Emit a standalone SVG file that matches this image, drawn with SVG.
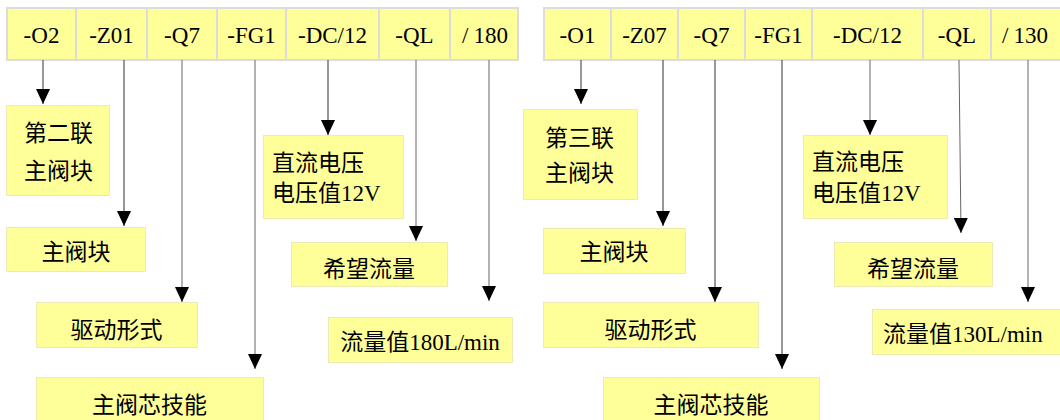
<svg xmlns="http://www.w3.org/2000/svg" width="1060" height="420" viewBox="0 0 1060 420">
<style>
.bar{fill:#dcdcdc}
.cell{fill:#ffff99}
.box{fill:#ffff99;stroke:#ecebb4;stroke-width:1}
text{font-family:"Liberation Serif","Noto Sans CJK SC",serif;fill:#000}
.t{font-size:23px;text-anchor:middle}
.b{font-size:23px}
.c{text-anchor:middle}
.dk{stroke:#333;stroke-width:1;fill:none}
.gy{stroke:#666;stroke-width:1;fill:none}
</style>
<defs>
<marker id="ah" viewBox="0 0 15 14" refX="15" refY="7" markerWidth="15" markerHeight="14" markerUnits="userSpaceOnUse" orient="auto">
<path d="M0,0 L15,7 L0,14 z" fill="#000"/>
</marker>
</defs>
<rect width="1060" height="420" fill="#fff"/>
<g id="bar-left">
<rect class="bar" x="6" y="7" width="513" height="54"/>
<rect class="cell" x="8" y="9" width="67" height="50"/><text class="t" x="41.5" y="43">-O2</text>
<rect class="cell" x="77" y="9" width="69" height="50"/><text class="t" x="111.5" y="43">-Z01</text>
<rect class="cell" x="148" y="9" width="68" height="50"/><text class="t" x="182" y="43">-Q7</text>
<rect class="cell" x="218" y="9" width="67" height="50"/><text class="t" x="251.5" y="43">-FG1</text>
<rect class="cell" x="287" y="9" width="91" height="50"/><text class="t" x="332.5" y="43">-DC/12</text>
<rect class="cell" x="380" y="9" width="69" height="50"/><text class="t" x="414.5" y="43">-QL</text>
<rect class="cell" x="451" y="9" width="66" height="50"/><text class="t" x="485" y="43">/<tspan dx="5">180</tspan></text>
</g>
<g id="bar-right">
<rect class="bar" x="543" y="7" width="520" height="54"/>
<rect class="cell" x="545" y="9" width="65" height="50"/><text class="t" x="577.5" y="43">-O1</text>
<rect class="cell" x="612" y="9" width="65" height="50"/><text class="t" x="644.5" y="43">-Z07</text>
<rect class="cell" x="679" y="9" width="65" height="50"/><text class="t" x="711.5" y="43">-Q7</text>
<rect class="cell" x="746" y="9" width="65" height="50"/><text class="t" x="778.5" y="43">-FG1</text>
<rect class="cell" x="813" y="9" width="109" height="50"/><text class="t" x="867.5" y="43">-DC/12</text>
<rect class="cell" x="924" y="9" width="66" height="50"/><text class="t" x="957" y="43">-QL</text>
<rect class="cell" x="992" y="9" width="70" height="50"/><text class="t" x="1025" y="43">/<tspan dx="5">130</tspan></text>
</g>
<g id="connectors">
<line class="dk" x1="43" y1="60" x2="43" y2="104" marker-end="url(#ah)"/>
<line class="dk" x1="124" y1="60" x2="124" y2="226" marker-end="url(#ah)"/>
<line class="gy" x1="182" y1="60" x2="182" y2="302" marker-end="url(#ah)"/>
<line class="gy" x1="255" y1="60" x2="255" y2="369" marker-end="url(#ah)"/>
<line class="dk" x1="328" y1="60" x2="328" y2="135" marker-end="url(#ah)"/>
<line class="gy" x1="416" y1="60" x2="416" y2="241" marker-end="url(#ah)"/>
<line class="gy" x1="489" y1="60" x2="489" y2="301" marker-end="url(#ah)"/>
<line class="dk" x1="581" y1="60" x2="581" y2="104" marker-end="url(#ah)"/>
<line class="dk" x1="663" y1="60" x2="663" y2="226" marker-end="url(#ah)"/>
<line class="dk" x1="715" y1="60" x2="715" y2="302" marker-end="url(#ah)"/>
<line class="dk" x1="782" y1="60" x2="782" y2="369" marker-end="url(#ah)"/>
<line class="gy" x1="870" y1="60" x2="870" y2="135" marker-end="url(#ah)"/>
<line class="gy" x1="959" y1="60" x2="961" y2="233" marker-end="url(#ah)"/>
<line class="gy" x1="1028" y1="60" x2="1028" y2="302" marker-end="url(#ah)"/>
</g>
<g id="L-lian"><rect class="box" x="6.5" y="105.5" width="103" height="90"/><text class="b" x="24" y="141">第二联</text><text class="b" x="24" y="179">主阀块</text></g>
<g id="L-zhufa"><rect class="box" x="6.5" y="227.5" width="139" height="44"/><text class="b c" x="76" y="260">主阀块</text></g>
<g id="L-qudong"><rect class="box" x="36.5" y="302.5" width="161" height="45"/><text class="b c" x="116.5" y="338">驱动形式</text></g>
<g id="L-jineng"><rect class="box" x="36.5" y="377.5" width="227" height="50"/><text class="b c" x="149.5" y="413">主阀芯技能</text></g>
<g id="L-dianya"><rect class="box" x="263.5" y="135.5" width="140" height="83"/><text class="b" x="272" y="171">直流电压</text><text class="b" x="272" y="201">电压值12V</text></g>
<g id="L-xiwang"><rect class="box" x="291.5" y="242.5" width="156" height="44"/><text class="b c" x="369" y="277">希望流量</text></g>
<g id="L-liuliang"><rect class="box" x="328.5" y="317.5" width="184" height="45"/><text class="b c" x="420" y="350">流量值180L/min</text></g>
<g id="R-lian"><rect class="box" x="523.5" y="109.5" width="114" height="90"/><text class="b" x="545" y="146">第三联</text><text class="b" x="545" y="181">主阀块</text></g>
<g id="R-zhufa"><rect class="box" x="543.5" y="228.5" width="142" height="45"/><text class="b c" x="614" y="260">主阀块</text></g>
<g id="R-qudong"><rect class="box" x="543.5" y="302.5" width="215" height="45"/><text class="b c" x="650.5" y="338">驱动形式</text></g>
<g id="R-jineng"><rect class="box" x="603.5" y="377.5" width="216" height="50"/><text class="b c" x="711" y="413">主阀芯技能</text></g>
<g id="R-dianya"><rect class="box" x="803.5" y="135.5" width="144" height="83"/><text class="b" x="812" y="170">直流电压</text><text class="b" x="812" y="201">电压值12V</text></g>
<g id="R-xiwang"><rect class="box" x="834.5" y="242.5" width="158" height="44"/><text class="b c" x="913" y="277">希望流量</text></g>
<g id="R-liuliang"><rect class="box" x="872.5" y="309.5" width="200" height="45"/><text class="b" x="883" y="342">流量值130L/min</text></g>
</svg>
